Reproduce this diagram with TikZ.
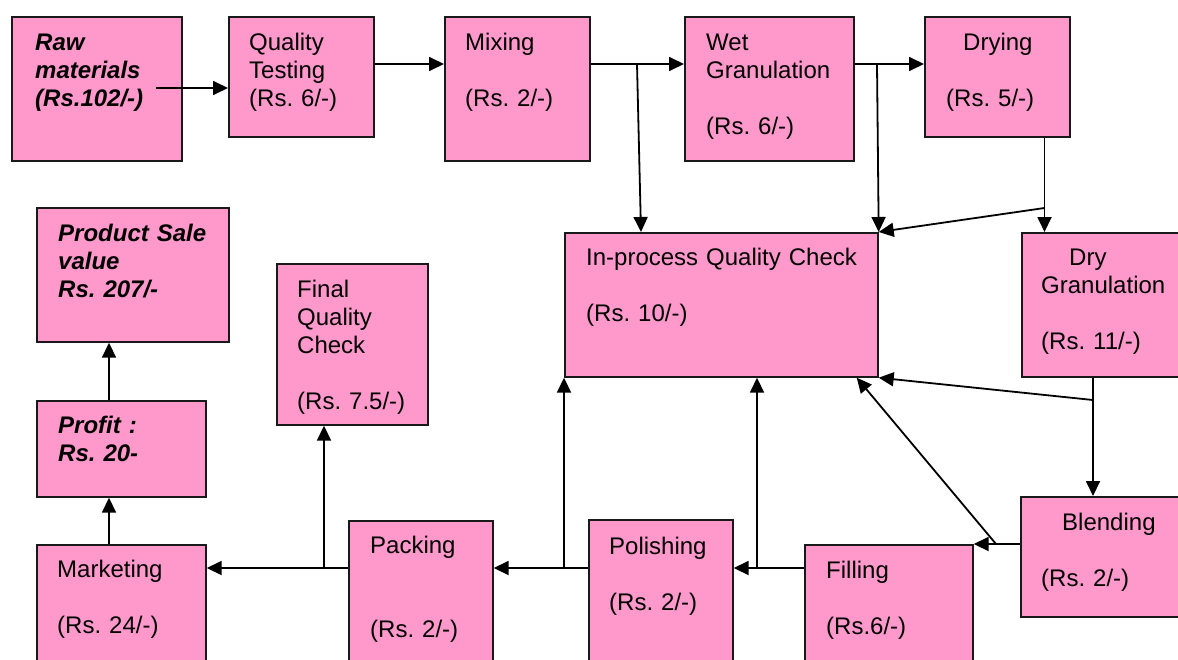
\documentclass[tikz,border=0pt]{standalone}
\usepackage{fontspec}
\setmainfont{Liberation Sans}
\usepackage{xcolor}
\usepackage{tikz}
\usetikzlibrary{arrows.meta,positioning}
\definecolor{boxpink}{HTML}{FF99CC}
\frenchspacing
\tikzstyle{line} = [draw, line width=1.8pt, -{Triangle[length=15pt,width=14pt]}]
\tikzstyle{box} = [draw=black!90, fill=boxpink, line width=1.7pt, anchor=north west, inner sep=0pt]
\tikzstyle{txt} = [anchor=base west, inner sep=0pt, align=left, text width=175pt, font=\fontsize{24}{28}\selectfont]
\tikzstyle{btxt} = [txt, font=\fontsize{24}{28}\selectfont\bfseries\itshape]

\begin{document}
\begin{tikzpicture}[x=1pt,y=-1pt]
		\useasboundingbox (0,0) rectangle (1178,659);
		\clip (0,0) rectangle (1178,659);
		
		% top row
		\node[box, minimum width=170pt, minimum height=144pt] (raw) at (11,16) {};
		\node[box, minimum width=145pt, minimum height=120pt] (qtest) at (228,16) {};
		\node[box, minimum width=145pt, minimum height=144pt] (mixing) at (444,16) {};
		\node[box, minimum width=169pt, minimum height=144pt] (wet) at (684,16) {};
		\node[box, minimum width=145pt, minimum height=120pt] (drying) at (924,16) {};
		
		% middle
		\node[box, minimum width=313pt, minimum height=144pt] (inproc) at (564,232) {};
		\node[box, minimum width=175pt, minimum height=144pt] (drygran) at (1021,232) {};
		\node[box, minimum width=192pt, minimum height=134pt] (product) at (36,207) {};
		\node[box, minimum width=151pt, minimum height=161pt] (finalqc) at (276,263) {};
		\node[box, minimum width=169pt, minimum height=96pt] (profit) at (36,400) {};
		
		% bottom row (runs off the page)
		\node[box, minimum width=169pt, minimum height=130pt] (marketing) at (36,544) {};
		\node[box, minimum width=144pt, minimum height=150pt] (packing) at (348,520) {};
		\node[box, minimum width=144pt, minimum height=150pt] (polishing) at (588,519) {};
		\node[box, minimum width=168pt, minimum height=130pt] (filling) at (804,544) {};
		\node[box, minimum width=175pt, minimum height=120pt] (blending) at (1020,496) {};
		
		% texts
		\node[btxt] (rawtxt) at (35,50) {Raw\\materials\\(Rs.102/-)};
		\node[txt] (qtesttxt) at (249,50) {Quality\\Testing\\(Rs. 6/-)};
		\node[txt] (mixingtxt) at (465,50) {Mixing\\[28pt](Rs. 2/-)};
		\node[txt] (wettxt) at (706,50) {Wet\\Granulation\\[28pt](Rs. 6/-)};
		\node[txt] (dryingtxt) at (946,50) {\hspace*{17pt}Drying\\[28pt](Rs. 5/-)};
		\node[txt, text width=300pt] (inproctxt) at (586,265) {In-process Quality Check\\[28pt](Rs. 10/-)};
		\node[txt] (drygrantxt) at (1041,265) {\hspace*{28pt}Dry\\Granulation\\[28pt](Rs. 11/-)};
		\node[btxt] (producttxt) at (58,241) {Product Sale\\value\\Rs. 207/-};
		\node[txt] (finalqctxt) at (297,297) {Final\\Quality\\Check\\[28pt](Rs. 7.5/-)};
		\node[btxt] (profittxt) at (58,433) {Profit :\\Rs. 20-};
		\node[txt] (marketingtxt) at (57,577) {Marketing\\[28pt](Rs. 24/-)};
		\node[txt] (packingtxt) at (370,553) {Packing\\[56pt](Rs. 2/-)};
		\node[txt] (polishingtxt) at (609,554) {Polishing\\[28pt](Rs. 2/-)};
		\node[txt] (fillingtxt) at (826,578) {Filling\\[28pt](Rs.6/-)};
		\node[txt] (blendingtxt) at (1041,530) {\hspace*{21pt}Blending\\[28pt](Rs. 2/-)};
		
		% split points of the connectors
		\coordinate (rawout) at (156,88);
		\coordinate (toprow) at (0,64);
		\coordinate (mixsplit) at (637,64);
		\coordinate (wetsplit) at (877,64);
		\coordinate (drysplit) at (1044.5,208);
		\coordinate (gransplit) at (1093,400);
		\coordinate (blendsplit) at (996,544);
		\coordinate (fillsplit) at (757,568);
		\coordinate (polsplit) at (564,568);
		\coordinate (packsplit) at (324,568);
		\coordinate (salecol) at (109,0);
		
		% top row flow
		\draw[line] (rawout) -- (rawout -| qtest.west);
		\draw[line] (qtest.east |- toprow) -- (mixing.west |- toprow);
		\draw[line] (mixing.east |- toprow) -- (wet.west |- toprow);
		\draw[line] (mixsplit) -- ([xshift=77pt]inproc.north west);
		\draw[line] (wet.east |- toprow) -- (drying.west |- toprow);
		\draw[line] (wetsplit) -- (inproc.north east);
		\draw[line] (drysplit |- drying.south) -- (drysplit |- drygran.north);
		\draw[line] (drysplit) -- (inproc.north east);
		
		% down the right side and back
		\draw[line] (gransplit |- drygran.south) -- (gransplit |- blending.north);
		\draw[line] (gransplit) -- (inproc.south east);
		\draw[line] (blending.west |- blendsplit) -- (filling.north east);
		\draw[line] (blendsplit) -- ([xshift=-22pt]inproc.south east);
		\draw[line] (filling.west |- fillsplit) -- (polishing.east |- fillsplit);
		\draw[line] (fillsplit) -- (fillsplit |- inproc.south);
		\draw[line] (polishing.west |- polsplit) -- (packing.east |- polsplit);
		\draw[line] (polsplit) -- (inproc.south west);
		\draw[line] (packing.west |- packsplit) -- (marketing.east |- packsplit);
		\draw[line] (packsplit) -- (packsplit |- finalqc.south);
		
		% up to the sale value
		\draw[line] (salecol |- marketing.north) -- (salecol |- profit.south);
		\draw[line] (salecol |- profit.north) -- (salecol |- product.south);
		
\end{tikzpicture}
\end{document}
